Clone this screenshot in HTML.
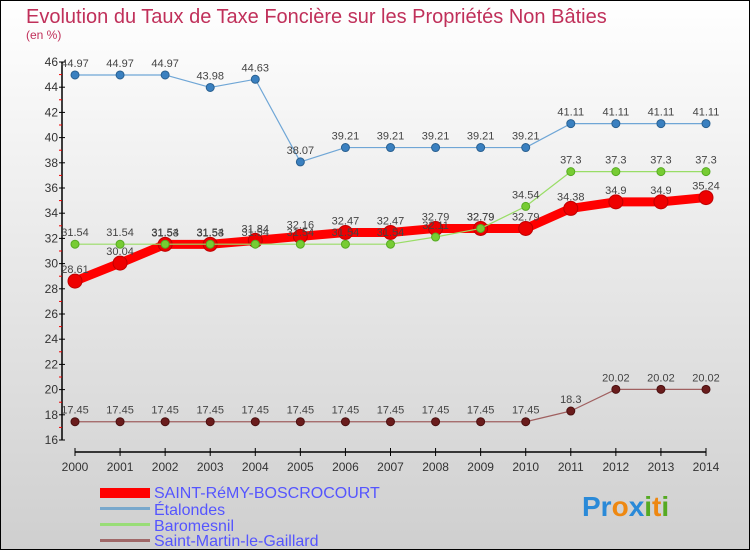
<!DOCTYPE html>
<html><head><meta charset="utf-8"><style>
body{margin:0;width:750px;height:550px;overflow:hidden}
svg{display:block;font-family:"Liberation Sans",sans-serif}
</style></head><body>
<svg width="750" height="550" viewBox="0 0 750 550">
<defs><linearGradient id="bg" x1="0" y1="0" x2="0" y2="1"><stop offset="0" stop-color="#ffffff"/><stop offset="1" stop-color="#cfcfcf"/></linearGradient></defs>
<rect x="0.5" y="0.5" width="749" height="549" fill="url(#bg)" stroke="#000"/>
<text x="26" y="23" font-size="20" fill="#c0305a">Evolution du Taux de Taxe Foncière sur les Propriétés Non Bâties</text>
<text x="26" y="39" font-size="12" fill="#c0305a">(en %)</text>
<g id="axes"></g>
<g id="series"></g>
<g id="legend">
<rect x="100" y="488" width="50" height="10" fill="#ff0000"/>
<text x="154" y="498" font-size="16" fill="#5555ff">SAINT-RéMY-BOSCROCOURT</text>
<rect x="100" y="507" width="50" height="3" fill="#79a8cc"/>
<text x="154" y="515" font-size="16" fill="#5555ff">Étalondes</text>
<rect x="100" y="523" width="50" height="3" fill="#99dd77"/>
<text x="154" y="531" font-size="16" fill="#5555ff">Baromesnil</text>
<rect x="100" y="539" width="50" height="3" fill="#a06868"/>
<text x="154" y="546" font-size="16" fill="#5555ff">Saint-Martin-le-Gaillard</text>
</g>
<g font-size="28" font-weight="bold">
<text x="582" y="516"><tspan fill="#2a8ad8">Pr</tspan><tspan fill="#ee8811">o</tspan><tspan fill="#2a8ad8">x</tspan><tspan fill="#55aa22">i</tspan><tspan fill="#ee8811">t</tspan><tspan fill="#55aa22">i</tspan></text>
</g>
</svg>
<script>
const years=[2000,2001,2002,2003,2004,2005,2006,2007,2008,2009,2010,2011,2012,2013,2014];
const yTicks=[16,18,20,22,24,26,28,30,32,34,36,38,40,42,44,46];
const saintRemy=[28.61,30.04,31.53,31.53,31.84,32.16,32.47,32.47,32.79,32.79,32.79,34.38,34.9,34.9,35.24];
const etalondes=[44.97,44.97,44.97,43.98,44.63,38.07,39.21,39.21,39.21,39.21,39.21,41.11,41.11,41.11,41.11];
const baromesnil=[31.54,31.54,31.54,31.54,31.54,31.54,31.54,31.54,32.11,32.79,34.54,37.3,37.3,37.3,37.3];
const saintMartin=[17.45,17.45,17.45,17.45,17.45,17.45,17.45,17.45,17.45,17.45,17.45,18.3,20.02,20.02,20.02];
const NS="http://www.w3.org/2000/svg";
const xs=i=>75+i*(706-75)/(years.length-1);
const ys=v=>440-(v-16)*(440-62)/30;
function mk(tag,attrs,parent){const e=document.createElementNS(NS,tag);for(const k in attrs)e.setAttribute(k,attrs[k]);parent.appendChild(e);return e;}
const ax=document.getElementById('axes');
let l=mk('line',{x1:62,y1:62,x2:62,y2:440,stroke:'#000','stroke-width':1.5},ax);


yTicks.forEach(v=>{
 const t=mk('line',{x1:59,y1:ys(v),x2:65,y2:ys(v),stroke:'#000'},ax);
 
 
 if(v<46){const m=mk('line',{x1:59,y1:ys(v+1),x2:62,y2:ys(v+1),stroke:'#e00'},ax);
 
 }
 const tx=mk('text',{x:58,y:ys(v)+4,'font-size':12,fill:'#333','text-anchor':'end'},ax);
 tx.textContent=v;
 
 
});
l=mk('line',{x1:75,y1:452,x2:706,y2:452,stroke:'#000','stroke-width':1.5},ax);


years.forEach((y,i)=>{
 const t=mk('line',{x1:xs(i),y1:448,x2:xs(i),y2:456,stroke:'#000'},ax);
 
 
 const tx=mk('text',{x:xs(i),y:471,'font-size':12,fill:'#333','text-anchor':'middle'},ax);
 tx.textContent=y;
 
 
});
const sg=document.getElementById('series');
function draw(vals,name,color,w,r,dot,dotStroke){
 const g=mk('g',{},sg);
 
 
 const p=mk('polyline',{points:vals.map((v,i)=>xs(i)+','+ys(v)).join(' '),fill:'none',stroke:color,'stroke-width':w,'stroke-linejoin':'round'},g);
 
 
 vals.forEach((v,i)=>{
  const c=mk('circle',{cx:xs(i),cy:ys(v),r:r,fill:dot,stroke:dotStroke,'stroke-width':1},g);
  
  
  const t=mk('text',{x:xs(i),y:ys(v)-8,'font-size':11,fill:'#444','text-anchor':'middle'},g);
  t.textContent=String(v);
  
  
 });
}
draw(etalondes,'etalondes','#6fa6d6',1.2,4,'#3a80c0','#2a6090');
draw(saintMartin,'saint-martin','#a06060',1.2,4,'#6a1c1c','#4a1010');
draw(saintRemy,'saint-remy','#ff0000',9,7,'#ee0000','#c00000');
draw(baromesnil,'baromesnil','#99dd66',1.2,4,'#77cc33','#55aa22');
</script>
</body></html>
